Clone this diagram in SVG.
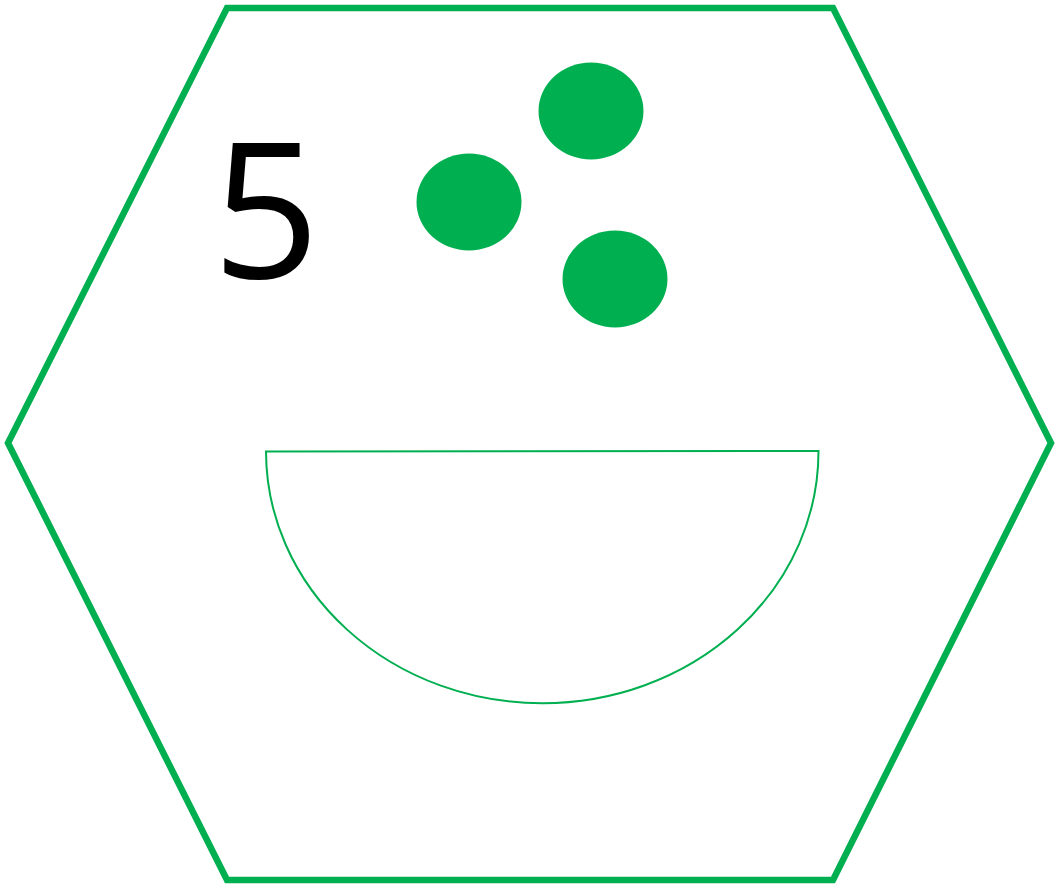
<svg xmlns="http://www.w3.org/2000/svg" width="1056" height="888" viewBox="0 0 1056 888">
<style>
.g{fill:#00AF50}
.o{fill:none;stroke:#00AF50}
</style>
<rect width="1056" height="888" fill="#fff"/>
<g id="hexagon"><polygon class="o" stroke-width="6.5" points="227,8 833,8 1051,443 833,880 227,880 8,443"/></g>
<g id="label"><text x="266" y="278" font-family="'Open Sans', sans-serif" font-size="188" text-anchor="middle" fill="#000">5</text></g>
<g id="dots">
<ellipse class="g" cx="591" cy="111" rx="52.5" ry="48.5"/>
<ellipse class="g" cx="469" cy="202" rx="52.5" ry="48.5"/>
<ellipse class="g" cx="615" cy="279" rx="52.5" ry="48.5"/>
</g>
<g id="bowl"><path class="o" stroke-width="2" d="M266,451.5 L818.5,451 A276.25,252 0 0 1 266,451.5 Z"/></g>
</svg>
